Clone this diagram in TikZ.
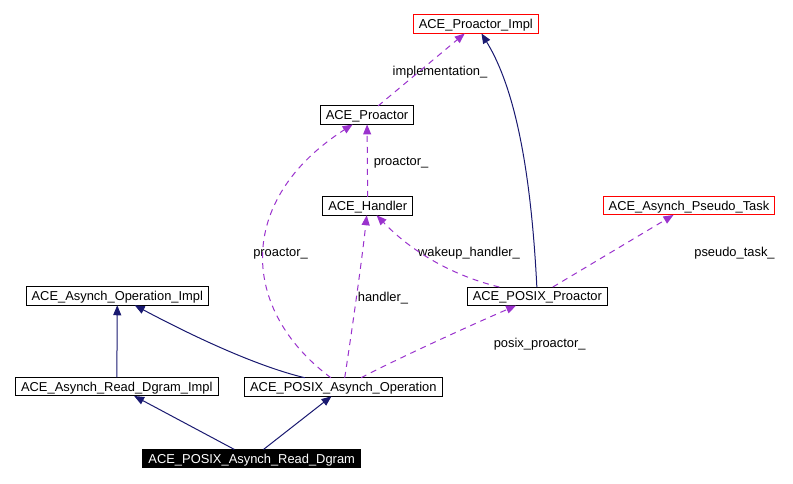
\documentclass[tikz,border=0pt]{standalone}
\usepackage{fontspec}
\setmainfont{Liberation Sans}
\usetikzlibrary{arrows.meta}
\definecolor{inhblue}{HTML}{191970}
\definecolor{usepurple}{HTML}{9A32CD}
\begin{document}
\begin{tikzpicture}[x=1pt,y=-1pt,inner sep=0pt,outer sep=0pt,line width=1pt,
font=\fontsize{12.9}{15}\selectfont,text height=9.3pt,text depth=0pt,
classblock/.style={draw,rectangle,inner xsep=5.5pt,minimum height=18.5pt,line width=1pt},
redblock/.style={classblock,draw=red},
inherits/.style={inhblue,-{Triangle[length=10pt,width=8pt]}},
member/.style={usepurple,dash pattern=on 6pt off 5pt,-{Triangle[length=10pt,width=8pt]}}]
\useasboundingbox (0,0) rectangle (793,483);
\draw (475.8,24.2) node[redblock] (impl) {ACE\_Proactor\_Impl};
\draw (367,115.2) node[classblock] (pro) {ACE\_Proactor};
\draw (367.7,206) node[classblock] (hnd) {ACE\_Handler};
\draw (689,205.7) node[redblock] (pst) {ACE\_Asynch\_Pseudo\_Task};
\draw (537.3,296.3) node[classblock] (ppro) {ACE\_POSIX\_Proactor};
\draw (117.3,296) node[classblock] (aoi) {ACE\_Asynch\_Operation\_Impl};
\draw (116.8,386.7) node[classblock] (rdi) {ACE\_Asynch\_Read\_Dgram\_Impl};
\draw (343.3,387) node[classblock] (pao) {ACE\_POSIX\_Asynch\_Operation};
\draw (251.7,458.7) node[classblock,fill=black,text=white] (prd) {ACE\_POSIX\_Asynch\_Read\_Dgram};
\draw (440,71) node (limpl) {implementation\_};
\draw (401,161) node (lpro1) {proactor\_};
\draw (280.5,252) node (lpro2) {proactor\_};
\draw (383,297) node (lhnd) {handler\_};
\draw (469,252) node (lwake) {wakeup\_handler\_};
\draw (734.5,252) node (lpst) {pseudo\_task\_};
\draw (539.7,343) node (lppro) {posix\_proactor\_};
\draw[member] (pro) -- (impl);
\draw[member] (hnd) -- (pro);
\draw[member] (pao) .. controls (240,310) and (235,200) .. (pro);
\draw[member] (pao) .. controls (352,330) and (362,260) .. (hnd);
\draw[member] (ppro) .. controls (450,275) and (410,250) .. (hnd);
\draw[member] (ppro) -- (pst);
\draw[member] (pao) .. controls (395,360) and (460,330) .. (ppro);
\draw[inherits] (ppro) .. controls (530,150) and (510,80) .. (impl);
\draw[inherits] (rdi) -- (aoi);
\draw[inherits] (pao) .. controls (260,367) and (200,340) .. (aoi);
\draw[inherits] (prd) -- (rdi);
\draw[inherits] (prd) -- (pao);
\end{tikzpicture}
\end{document}
